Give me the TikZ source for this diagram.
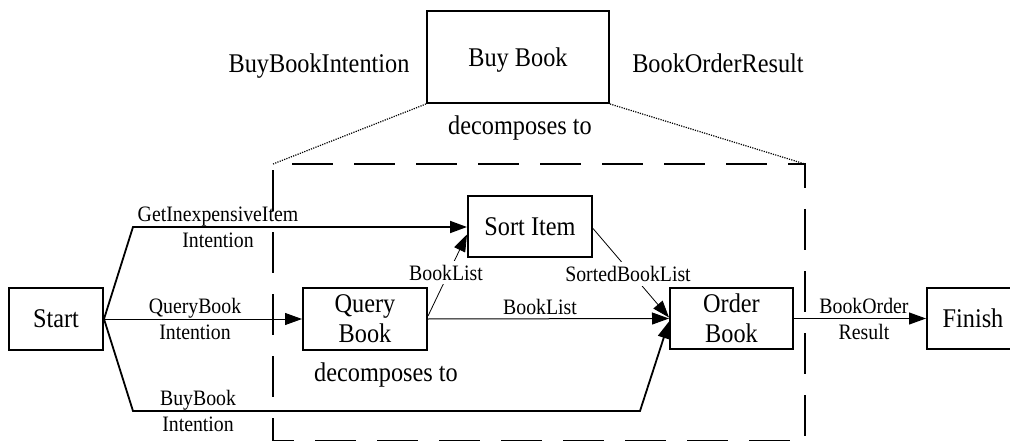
\documentclass[tikz,border=0pt]{standalone}
\usepackage{fontspec}
\setmainfont{Liberation Serif}[FakeStretch=0.9]
\usetikzlibrary{arrows.meta,calc}

\newcommand\boxfont{\fontsize{27}{30}\selectfont}
\newcommand\lblfont{\fontsize{22}{26}\selectfont}

\begin{document}
\begin{tikzpicture}[x=1pt,y=-1pt,
  box/.style={draw,line width=2pt,rectangle,inner sep=0pt,align=center,font=\boxfont},
  bigtxt/.style={inner sep=0pt,font=\boxfont},
  lab/.style={inner sep=0pt,align=center,font=\lblfont},
  arr/.style={-{Triangle[length=17pt,width=12pt]}},
  thickline/.style={line width=1.8pt},
  thinline/.style={line width=1pt},
  hairline/.style={line width=0.8pt},
  zonedash/.style={line width=2.7pt,dash pattern=on 41pt off 21pt},
  zoomline/.style={line width=1.2pt,dash pattern=on 1.2pt off 1.2pt}
]
\useasboundingbox (0,0) rectangle (1010,441);

% composite task and its decomposition frame
\node[box,minimum width=182pt,minimum height=92pt,text depth=0pt] (buy) at (518,57) {Buy Book};
\node[bigtxt,anchor=base] (bbi) at (319,73) {BuyBookIntention};
\node[bigtxt,anchor=base] (bor) at (718,73) {BookOrderResult};
\node[bigtxt,anchor=base] (dec1) at (520,135) {decomposes to};

\coordinate (dtl) at (273,164);
\coordinate (dtr) at (805,164);
\coordinate (dbr) at (805,441.6);
\coordinate (dbl) at (273,441.6);
\draw[zonedash,dash phase=43pt] (dtl) -- (dtr) -- (dbr) -- (dbl);
\draw[zonedash,dash phase=17pt] (dbl) -- (dtl);
\draw[zoomline] (buy.south west) -- (dtl);
\draw[zoomline] (buy.south east) -- (dtr);

% sub-tasks
\node[box,minimum width=94pt,minimum height=62pt] (start) at (56,319) {Start};
\node[box,minimum width=124pt,minimum height=62pt] (query) at (365,319) {Query\\Book};
\node[box,minimum width=124pt,minimum height=61pt] (sort) at (530,226.5) {Sort Item};
\node[box,minimum width=123pt,minimum height=61pt] (order) at (731.5,318.5) {Order\\Book};
\node[box,minimum width=92pt,minimum height=61pt] (finish) at (973,318.5) {Finish};
\node[bigtxt,anchor=base] (dec2) at (386,381.5) {decomposes to};

% data flows
\coordinate (g1) at (133,227);
\coordinate (b1) at (133,411);
\coordinate (b2) at (640,411);
\draw[thickline,arr] (start.east) -- (g1) -- (g1 -| sort.west);
\draw[thinline,arr] (start.east) -- (query.west);
\draw[thickline,arr] (start.east) -- (b1) -- (b2) -- ($(order.west)+(0,3)$);
\draw[thinline,arr] (query.east) -- (order.west);
\draw[hairline,arr] ($(query.east)+(0,-3)$) -- ($(sort.west)+(0,8)$);
\draw[hairline,arr] ($(sort.east)+(0,2)$) -- ($(order.west)+(0,-1)$);
\draw[thinline,arr] (order.east) -- (finish.west);

% flow labels
\node[lab] (l1) at (218,227) {GetInexpensiveItem\\Intention};
\node[lab] (l2) at (195,319) {QueryBook\\Intention};
\node[lab] (l3) at (198,411) {BuyBook\\Intention};
\node[lab] (l4) at (864,319) {BookOrder\\Result};
\node[lab,anchor=base] (l5) at (540,314) {BookList};
\node[lab,fill=white,inner sep=4pt,anchor=base] (l6) at (446,280) {BookList};
\node[lab,fill=white,inner sep=4pt,anchor=base] (l7) at (628,281.5) {SortedBookList};
\end{tikzpicture}
\end{document}
